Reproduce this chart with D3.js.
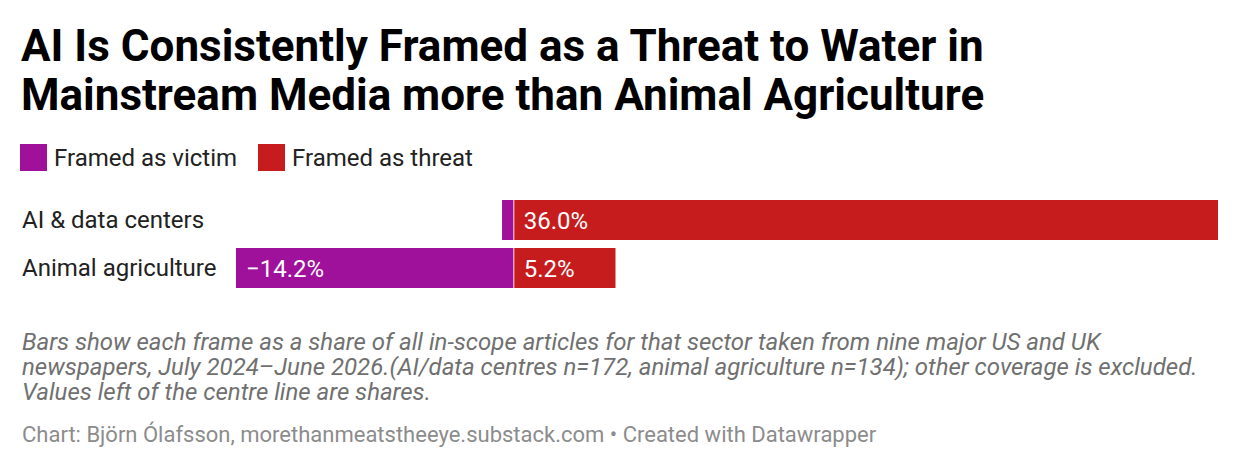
<!DOCTYPE html>
<html>
<head>
  <meta charset="utf-8">
  <title>AI framed as a threat to water</title>
  <script src="https://d3js.org/d3.v7.min.js"></script>
  <style>
    body { margin: 0; background: #fff; }
    svg { font-family: Roboto, "Noto Sans", sans-serif; }
    .title { font-weight: 700; font-size: 44px; fill: #000; }
    .legend text, .cat { font-size: 24px; fill: #222; }
    .val { font-size: 24px; fill: #fff; }
    .notes { font-size: 24px; font-style: italic; fill: #707070; }
    .credit { font-size: 22px; fill: #8c8c8c; }
  </style>
</head>
<body>
<svg width="1240" height="468"></svg>
<script>
  const categories = ["AI & data centers", "Animal agriculture"]
  const victim = [-0.6, -14.2]   // shown left of the centre line
  const threat = [36.0, 5.2]
  const seriesNames = ["Framed as victim", "Framed as threat"]
  const colors = ["#a0119b", "#c71c1d"]

  const titleLines = [
    "AI Is Consistently Framed as a Threat to Water in",
    "Mainstream Media more than Animal Agriculture"
  ]
  const noteLines = [
    "Bars show each frame as a share of all in-scope articles for that sector taken from nine major US and UK",
    "newspapers, July 2024\u2013June 2026.(AI/data centres n=172, animal agriculture n=134); other coverage is excluded.",
    "Values left of the centre line are shares."
  ]
  const credit = "Chart: Björn Ólafsson, morethanmeatstheeye.substack.com \u2022 Created with Datawrapper"

  const svg = d3.select("svg")

  svg.append("g")
    .selectAll("text")
    .data(titleLines)
    .join("text")
    .attr("class", "title")
    .attr("x", 21)
    .attr("y", (d, i) => 61 + i * 49)
    .text(d => d)

  // legend
  const legend = svg.append("g").attr("class", "legend")
  const legX = [20, 258]
  seriesNames.forEach((name, i) => {
    legend.append("rect")
      .attr("x", legX[i]).attr("y", 144)
      .attr("width", 27).attr("height", 27)
      .attr("fill", colors[i])
    legend.append("text")
      .attr("x", legX[i] + 34).attr("y", 166)
      .text(name)
  })

  const x = d3.scaleLinear()
    .domain([d3.min(victim), d3.max(threat)])
    .range([236, 1218])

  const y = d3.scaleBand()
    .domain(categories)
    .range([200, 288])
    .paddingInner(8 / 48)

  const rows = categories.map((c, i) => ({ cat: c, victim: victim[i], threat: threat[i] }))

  const fmt = v => (v < 0 ? "\u2212" : "") + Math.abs(v).toFixed(1) + "%"

  svg.append("g")
    .selectAll("text")
    .data(rows)
    .join("text")
    .attr("class", "cat")
    .attr("x", 22)
    .attr("y", d => y(d.cat) + y.bandwidth() / 2 + 8)
    .text(d => d.cat)

  const bars = svg.append("g")

  bars.selectAll("rect.victim")
    .data(rows)
    .join("rect")
    .attr("class", "victim")
    .attr("x", d => x(d.victim))
    .attr("y", d => y(d.cat))
    .attr("width", d => x(0) - x(d.victim))
    .attr("height", y.bandwidth())
    .attr("fill", colors[0])

  bars.selectAll("rect.threat")
    .data(rows)
    .join("rect")
    .attr("class", "threat")
    .attr("x", x(0))
    .attr("y", d => y(d.cat))
    .attr("width", d => x(d.threat) - x(0))
    .attr("height", y.bandwidth())
    .attr("fill", colors[1])

  // centre line
  svg.append("line")
    .attr("x1", x(0)).attr("x2", x(0))
    .attr("y1", y.range()[0]).attr("y2", y.range()[1])
    .attr("stroke", "#fff")
    .attr("stroke-opacity", 0.55)
    .attr("stroke-width", 1.5)

  // value labels, only where the bar is wide enough
  const labels = []
  rows.forEach(d => {
    if (x(0) - x(d.victim) > 60) labels.push({ cat: d.cat, v: d.victim, x0: x(d.victim) })
    if (x(d.threat) - x(0) > 60) labels.push({ cat: d.cat, v: d.threat, x0: x(0) })
  })
  svg.append("g")
    .selectAll("text")
    .data(labels)
    .join("text")
    .attr("class", "val")
    .attr("x", d => d.x0 + 10)
    .attr("y", d => y(d.cat) + y.bandwidth() / 2 + 8.5)
    .text(d => fmt(d.v))

  svg.append("g")
    .selectAll("text")
    .data(noteLines)
    .join("text")
    .attr("class", "notes")
    .attr("x", 22)
    .attr("y", (d, i) => 350 + i * 25)
    .text(d => d)

  svg.append("text")
    .attr("class", "credit")
    .attr("x", 22)
    .attr("y", 442)
    .text(credit)
</script>
</body>
</html>
